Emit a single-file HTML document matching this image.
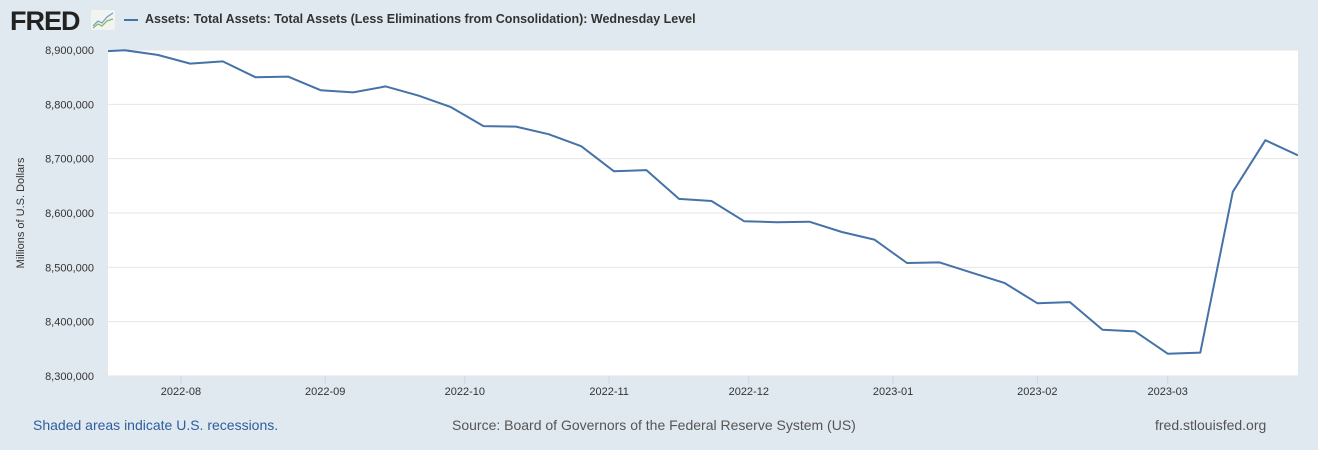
<!DOCTYPE html>
<html><head><meta charset="utf-8"><style>
body{margin:0;width:1318px;height:450px;background:#e1e9f0;font-family:"Liberation Sans",sans-serif;overflow:hidden;position:relative}
.t{position:absolute;white-space:nowrap}
</style></head><body>
<div class="t" style="left:10px;top:6px;font-size:27px;font-weight:bold;color:#222;letter-spacing:-1px">FRED</div>
<svg style="position:absolute;left:91px;top:10px" width="24" height="20"><rect width="24" height="20" fill="#f2f4f2" rx="2"/><polyline points="2,16 7,11 11,13 16,7 22,3" fill="none" stroke="#7a9fc8" stroke-width="1.3"/><polyline points="2,18 7,14 11,16 16,11 22,9" fill="none" stroke="#8cb860" stroke-width="1.3"/></svg>
<div style="position:absolute;left:124px;top:19px;width:14px;height:2px;background:#4572a7"></div>
<div class="t" style="left:145px;top:12px;font-size:12.5px;font-weight:bold;color:#333">Assets: Total Assets: Total Assets (Less Eliminations from Consolidation): Wednesday Level</div>
<svg id="c" width="1318" height="450" style="position:absolute;left:0;top:0"></svg>
<div class="t" style="left:33px;top:417px;font-size:14px;color:#2d5d9e">Shaded areas indicate U.S. recessions.</div>
<div class="t" style="left:452px;top:417px;font-size:14px;color:#555">Source: Board of Governors of the Federal Reserve System (US)</div>
<div class="t" style="left:1155px;top:417px;font-size:14px;color:#555">fred.stlouisfed.org</div>
<script>
const startDate="2022-07-13";
const values=[8896500,8899500,8891000,8875000,8879000,8850000,8851000,8826000,8822000,8833000,8816000,8795000,8760000,8759000,8745000,8723000,8677000,8679000,8626000,8622000,8585000,8583000,8584000,8565000,8551000,8508000,8509000,8490000,8471000,8434000,8436000,8385000,8382000,8341000,8343000,8639000,8734000,8706000];
const yTicks=[8300000,8400000,8500000,8600000,8700000,8800000,8900000];
const xTicks=["2022-08-01","2022-09-01","2022-10-01","2022-11-01","2022-12-01","2023-01-01","2023-02-01","2023-03-01"];
const xTickLabels=["2022-08","2022-09","2022-10","2022-11","2022-12","2023-01","2023-02","2023-03"];
const NS="http://www.w3.org/2000/svg",svg=document.getElementById('c');
const L=108,R=1298,T=50,B=376,day=86400000;
const d0=Date.parse("2022-07-16T08:00Z"),d1=Date.parse("2023-03-29T00:00Z");
const x=d=>L+(d-d0)/(d1-d0)*(R-L);
const y=v=>B-(v-8300000)/600000*(B-T);
function mk(t,a,p){const e=document.createElementNS(NS,t);for(const k in a)e.setAttribute(k,a[k]);(p||svg).appendChild(e);return e;}
const bg=mk('rect',{x:L,y:T,width:R-L,height:B-T,fill:'#fff'});


yTicks.forEach(v=>{
 const g=mk('line',{x1:L,x2:R,y1:y(v),y2:y(v),stroke:'#e6e6e6'});
 
 
 const t=mk('text',{x:94,y:y(v)+4,'text-anchor':'end','font-size':11,fill:'#333','font-family':'Liberation Sans'});
 t.textContent=v.toLocaleString('en-US');
 
 
});
xTicks.forEach((d,i)=>{
 const xx=x(Date.parse(d+"T00:00Z"));
 const l=mk('line',{x1:xx,x2:xx,y1:B,y2:B+8,stroke:'#ccd6eb'});
 
 
 const t=mk('text',{x:xx,y:B+19,'text-anchor':'middle','font-size':11,fill:'#333','font-family':'Liberation Sans'});
 t.textContent=xTickLabels[i];
 
 
});
const yt=mk('text',{x:0,y:0,transform:'translate(24,213) rotate(-90)','text-anchor':'middle','font-size':11,fill:'#333','font-family':'Liberation Sans'});
yt.textContent='Millions of U.S. Dollars';


mk('clipPath',{id:'cp'});
mk('rect',{x:L,y:T-5,width:R-L,height:B-T+10},svg.lastChild);
const s0=Date.parse(startDate+"T00:00Z");
const pts=values.map((v,i)=>x(s0+i*7*day).toFixed(1)+','+y(v).toFixed(1)).join(' ');
const pl=mk('polyline',{points:pts,fill:'none',stroke:'#4572a7','stroke-width':2,'clip-path':'url(#cp)','stroke-linejoin':'round'});


</script>
</body></html>
